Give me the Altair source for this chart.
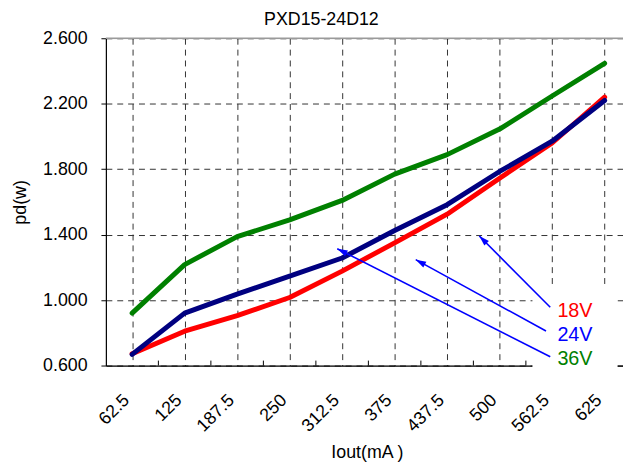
import math
import altair as alt
import pandas as pd

# ---------------- data ----------------
chart_title = "PXD15-24D12"
currents = ["62.5", "125", "187.5", "250", "312.5", "375", "437.5", "500", "562.5", "625"]
pd_18v = [0.672, 0.810, 0.905, 1.016, 1.177, 1.350, 1.525, 1.745, 1.960, 2.240]
pd_24v = [0.668, 0.920, 1.036, 1.146, 1.257, 1.425, 1.583, 1.786, 1.971, 2.220]
pd_36v = [0.920, 1.217, 1.388, 1.490, 1.609, 1.770, 1.889, 2.045, 2.247, 2.447]
series = ["18V", "24V", "36V"]
series_colors = ["#FF0000", "#000080", "#008000"]
label_colors = ["#FF0000", "#0000FF", "#008000"]

y_ticks = [0.6, 1.0, 1.4, 1.8, 2.2, 2.6]

# annotation labels (x in category-index units, y in W)
ann_x = [9.10, 9.10, 9.10]
ann_y = [0.933, 0.785, 0.641]
# arrows: start near the label, tip on the chart
arrow_x1 = [8.964, 8.883, 8.964]
arrow_y1 = [0.956, 0.811, 0.654]
arrow_x2 = [7.613, 6.402, 4.907]
arrow_y2 = [1.392, 1.247, 1.314]

# ---------------- layout constants ----------------
W, H = 523, 331
X_DOM = [0.5, 10.35]
Y_DOM = [0.6, 2.6]
PX_X = W / (X_DOM[1] - X_DOM[0])
PX_Y = H / (Y_DOM[1] - Y_DOM[0])
FONT = "Liberation Sans"
GRID = "#333333"

rows = []
for name, vals in zip(series, [pd_18v, pd_24v, pd_36v]):
    for i, v in enumerate(vals):
        rows.append({"idx": i + 1, "value": v, "series": name})
df = pd.DataFrame(rows)

label_expr = "[" + ",".join("'%s'" % c for c in currents) + "][datum.value - 1]"

x_enc = alt.X(
    "idx:Q",
    scale=alt.Scale(domain=X_DOM, nice=False, zero=False),
    axis=alt.Axis(
        values=list(range(1, len(currents) + 1)),
        labelExpr=label_expr,
        labelAngle=-45,
        labelAlign="right",
        labelBaseline="middle",
        labelPadding=32,
        labelOffset=-6,
        labelFontSize=18,
        labelFont=FONT,
        labelColor="black",
        labelOverlap=False,
        ticks=False,
        grid=True,
        gridDash=[6, 5],
        gridColor=GRID,
        gridWidth=1,
        domainColor="black",
        domainWidth=1.2,
        title="Iout(mA )",
        titleFont=FONT,
        titleFontSize=18,
        titleFontWeight="normal",
        titleColor="black",
        titleX=264,
        titleY=93,
        titleBaseline="alphabetic",
        titleAlign="center",
    ),
)
y_enc = alt.Y(
    "value:Q",
    scale=alt.Scale(domain=Y_DOM, nice=False, zero=False),
    axis=alt.Axis(
        values=y_ticks,
        format=".3f",
        tickSize=5,
        tickColor="black",
        labelPadding=14,
        labelFontSize=18,
        labelFont=FONT,
        labelColor="black",
        grid=True,
        gridDash=[6, 5],
        gridColor=GRID,
        gridWidth=1,
        domainColor="black",
        domainWidth=1.2,
        title="pd(w)",
        titleFont=FONT,
        titleFontSize=18,
        titleFontWeight="normal",
        titleColor="black",
        titleX=-86,
        titleY=H / 2,
        titleAngle=-90,
        titleBaseline="middle",
        titleAlign="center",
    ),
)

lines = alt.Chart(df).mark_line(strokeWidth=5, strokeCap="round", strokeJoin="round").encode(
    x=x_enc,
    y=y_enc,
    color=alt.Color("series:N", scale=alt.Scale(domain=series, range=series_colors), legend=None),
)

# inner x ticks at category boundaries
tick_df = pd.DataFrame({"bx": [i + 0.5 for i in range(1, len(currents))],
                        "y0": [Y_DOM[0]] * (len(currents) - 1),
                        "y1": [Y_DOM[0] + 5 / PX_Y] * (len(currents) - 1)})
ticks = alt.Chart(tick_df).mark_rule(color="black", strokeWidth=1).encode(
    x="bx:Q", y="y0:Q", y2="y1:Q")

# top border of plot area
top_df = pd.DataFrame({"x0": [X_DOM[0]], "x1": [X_DOM[1]], "y": [Y_DOM[1]]})
top = alt.Chart(top_df).mark_rule(color="#9a9a9a", strokeWidth=1.5).encode(
    x="x0:Q", x2="x1:Q", y="y:Q")

# white label box
box_df = pd.DataFrame({"x0": [8.625], "x1": [10.246], "y0": [0.572], "y1": [1.090]})
box = alt.Chart(box_df).mark_rect(color="white").encode(
    x="x0:Q", x2="x1:Q", y="y0:Q", y2="y1:Q")

# arrows
ar_df = pd.DataFrame({"x1": arrow_x1, "y1": arrow_y1, "x2": arrow_x2, "y2": arrow_y2})
r_head = math.sqrt(110) / 2
hx, hy, ang = [], [], []
for a, b, c, d in zip(arrow_x1, arrow_y1, arrow_x2, arrow_y2):
    dxp = (c - a) * PX_X
    dyp = -(d - b) * PX_Y
    L = math.hypot(dxp, dyp)
    ux, uy = dxp / L, dyp / L
    hx.append(c - r_head * ux / PX_X)
    hy.append(d + r_head * uy / PX_Y)
    ang.append(math.degrees(math.atan2(dxp, -dyp)) % 360)
head_df = pd.DataFrame({"hx": hx, "hy": hy, "ang": ang})

arrow_lines = alt.Chart(ar_df).mark_rule(color="#0000FF", strokeWidth=1.6).encode(
    x="x1:Q", y="y1:Q", x2="x2:Q", y2="y2:Q")
arrow_heads = alt.Chart(head_df).mark_point(
    shape="M0,-1L0.62,1L-0.62,1Z", filled=True, color="#0000FF", opacity=1, size=110
).encode(x="hx:Q", y="hy:Q", angle=alt.Angle("ang:Q", scale=None))

txt_df = pd.DataFrame({"tx": ann_x, "ty": ann_y, "label": series, "col": label_colors})
texts = alt.Chart(txt_df).mark_text(font=FONT, fontSize=20, align="left", baseline="middle").encode(
    x="tx:Q", y="ty:Q", text="label:N", color=alt.Color("col:N", scale=None))

title_df = pd.DataFrame({"t": [chart_title]})
title = alt.Chart(title_df).mark_text(
    font=FONT, fontSize=18, align="center", baseline="alphabetic", color="black"
).encode(x=alt.value(218), y=alt.value(-13), text="t:N")

chart = alt.layer(lines, ticks, top, box, arrow_lines, arrow_heads, texts, title).properties(
    width=W,
    height=H,
    padding={"left": 99, "top": 28, "right": 0, "bottom": 100},
    autosize=alt.AutoSizeParams(type="none"),
).configure_view(stroke=None).configure(background="white")

chart.save("out.html", embed_options={"renderer": "svg", "actions": False})
